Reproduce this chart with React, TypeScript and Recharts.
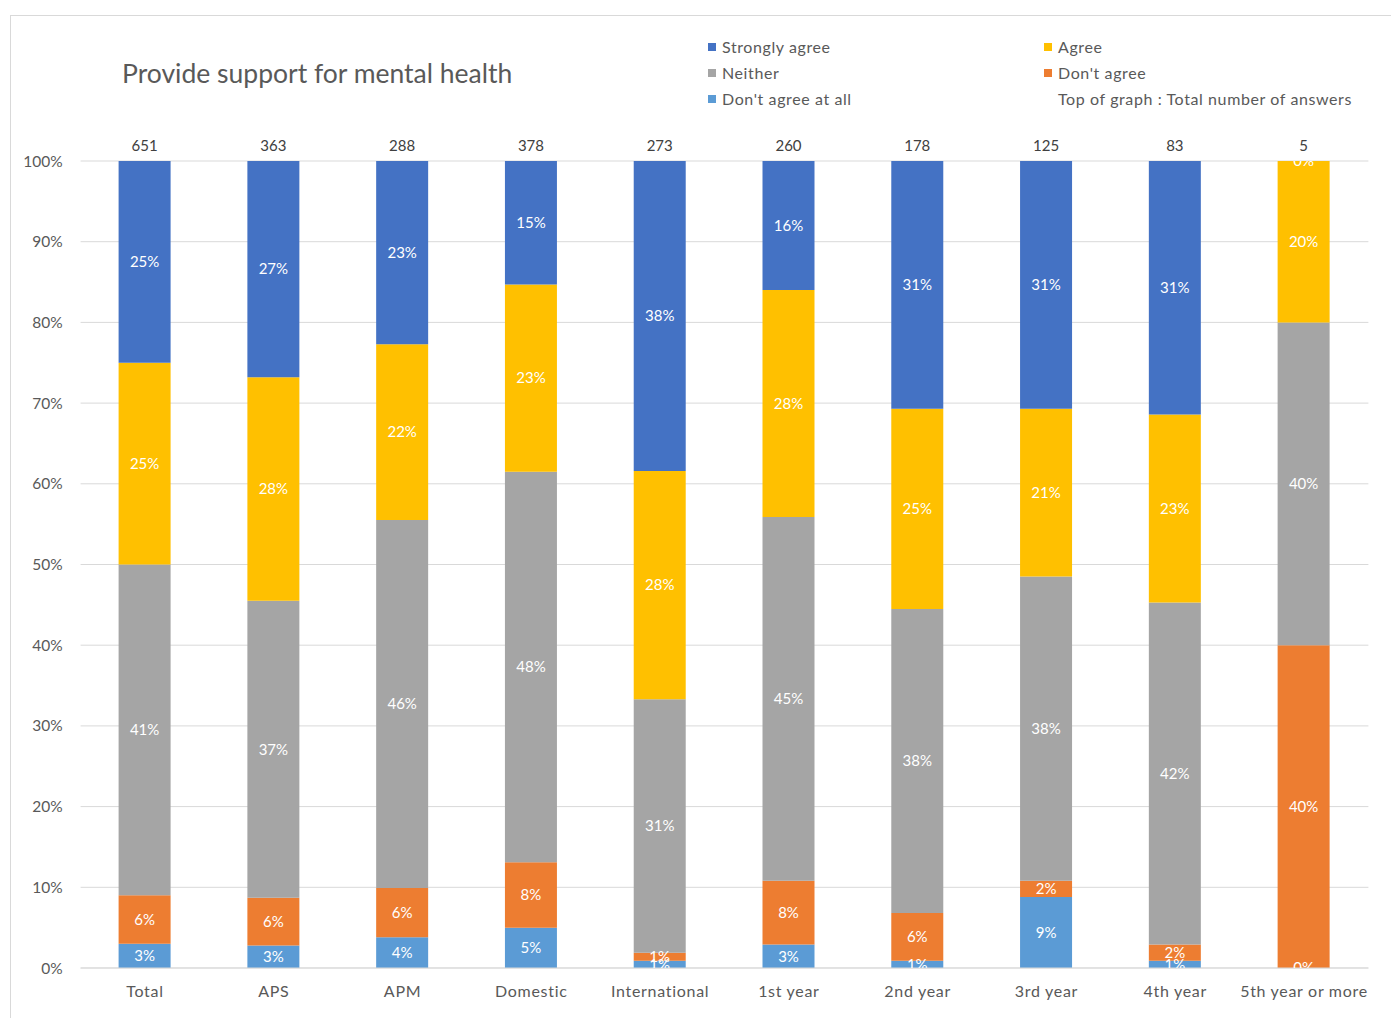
import { Bar, BarChart, CartesianGrid, LabelList, XAxis, YAxis } from "recharts";

const categories = ["Total", "APS", "APM", "Domestic", "International", "1st year", "2nd year", "3rd year", "4th year", "5th year or more"];
const totalAnswers = [651, 363, 288, 378, 273, 260, 178, 125, 83, 5];

// percentages per group, bottom to top of the stack
const dontAgreeAtAll = [3, 2.8, 3.8, 5, 0.9, 2.9, 0.9, 8.8, 0.9, 0];
const dontAgree = [6, 5.9, 6.1, 8.1, 1, 7.9, 5.9, 2, 2, 40];
const neither = [41, 36.8, 45.6, 48.4, 31.4, 45.1, 37.7, 37.7, 42.4, 40];
const agree = [25, 27.7, 21.8, 23.2, 28.3, 28.1, 24.8, 20.8, 23.3, 20];
const stronglyAgree = [25, 26.8, 22.7, 15.3, 38.4, 16, 30.7, 30.7, 31.4, 0];

const yTicks = [0, 10, 20, 30, 40, 50, 60, 70, 80, 90, 100];

const data = categories.map((name, i) => ({
  name,
  count: totalAnswers[i],
  dontAgreeAtAll: dontAgreeAtAll[i],
  dontAgree: dontAgree[i],
  neither: neither[i],
  agree: agree[i],
  stronglyAgree: stronglyAgree[i],
}));

const FONT = "Lato, 'Open Sans', sans-serif";
const W = 1380;
const H = 1000;
const MARGIN = { top: 145, right: 22.6, bottom: 18, left: 9.6 };
const PLOT_H = 807;

const series = [
  { key: "dontAgreeAtAll", label: "Don't agree at all", color: "#5B9BD5", values: dontAgreeAtAll },
  { key: "dontAgree", label: "Don't agree", color: "#ED7D31", values: dontAgree },
  { key: "neither", label: "Neither", color: "#A5A5A5", values: neither },
  { key: "agree", label: "Agree", color: "#FFC000", values: agree },
  { key: "stronglyAgree", label: "Strongly agree", color: "#4472C4", values: stronglyAgree },
];

let clipId = 0;

const pctText = (x: number, y: number, value: number, clip: string, key: string) => (
  <text
    key={key}
    x={x}
    y={y}
    dy="0.35em"
    textAnchor="middle"
    fill="#ffffff"
    fontSize={15}
    fontFamily={FONT}
    clipPath={`url(#${clip})`}
  >
    {Math.round(value)}%
  </text>
);

// label for a segment; zero-height neighbours get their "0%" drawn at the shared edge
const makeInsideLabel = (si: number) => (props: any) => {
  const { x, y, width, height, value, index } = props;
  const id = `seg-clip-${clipId++}`;
  const cx = x + width / 2;
  const extra: any[] = [];
  const above = series[si + 1];
  if (above && above.values[index] === 0) extra.push(pctText(cx, y, 0, id, "a"));
  const lowerAllZero = series.slice(0, si).every((s) => s.values[index] === 0);
  if (si > 0 && lowerAllZero) extra.push(pctText(cx, y + height, 0, id, "b"));
  return (
    <g>
      <defs>
        <clipPath id={id}>
          <rect x={0} y={MARGIN.top} width={W} height={PLOT_H} />
        </clipPath>
      </defs>
      {value > 0 && pctText(cx, y + height / 2, value, id, "m")}
      {value > 0 && extra}
    </g>
  );
};

const CountLabel = (props: any) => {
  const { x, width, value } = props;
  return (
    <text x={x + width / 2} y={MARGIN.top - 10} textAnchor="middle" fill="#404040" fontSize={15} fontFamily={FONT}>
      {value}
    </text>
  );
};

const legendRows = [
  [series[4], series[3]],
  [series[2], series[1]],
  [series[0], null],
];

export default function App() {
  return (
    <div
      style={{
        position: "absolute",
        left: 10,
        top: 15,
        width: 1380,
        height: 1002,
        borderLeft: "1px solid #d9d9d9",
        borderTop: "1px solid #d9d9d9",
        overflow: "hidden",
        fontFamily: FONT,
        background: "#fff",
      }}
    >
      <div
        style={{
          position: "absolute",
          left: 111,
          top: 44,
          fontSize: 26.5,
          lineHeight: "26px",
          color: "#595959",
          whiteSpace: "nowrap",
        }}
      >
        Provide support for mental health
      </div>
      {legendRows.map((row, r) =>
        row.map((s, c) => {
          const left = c === 0 ? 697 : 1033;
          const top = 23 + r * 26;
          return (
            <div
              key={`${r}-${c}`}
              style={{
                position: "absolute",
                left,
                top,
                display: "flex",
                alignItems: "center",
                fontSize: 16,
                letterSpacing: 0.6,
                lineHeight: "16px",
                color: "#595959",
                whiteSpace: "nowrap",
              }}
            >
              <span
                style={{ width: 8, height: 8, background: s ? s.color : "transparent", marginRight: 6, display: "inline-block" }}
              />
              {s ? s.label : "Top of graph : Total number of answers"}
            </div>
          );
        })
      )}
      <div style={{ position: "absolute", left: 0, top: 0 }}>
        <BarChart width={W} height={H} data={data} margin={MARGIN} barSize={52}>
          <CartesianGrid vertical={false} stroke="#d9d9d9" />
          <XAxis
            dataKey="name"
            axisLine={{ stroke: "#d9d9d9" }}
            tickLine={false}
            tickMargin={12}
            height={30}
            interval={0}
            tick={{ fontSize: 16, fill: "#595959", fontFamily: FONT, letterSpacing: 0.7 }}
          />
          <YAxis
            width={60}
            domain={[0, 100]}
            ticks={yTicks}
            axisLine={false}
            tickLine={false}
            tickMargin={12}
            tickFormatter={(v) => `${v}%`}
            tick={{ fontSize: 15.5, fill: "#595959", fontFamily: FONT }}
          />
          {series.map((s, si) => (
            <Bar key={s.key} dataKey={s.key} stackId="a" fill={s.color} isAnimationActive={false}>
              <LabelList dataKey={s.key} content={makeInsideLabel(si)} />
              {s.key === "neither" && <LabelList dataKey="count" content={CountLabel} />}
            </Bar>
          ))}
        </BarChart>
      </div>
    </div>
  );
}
